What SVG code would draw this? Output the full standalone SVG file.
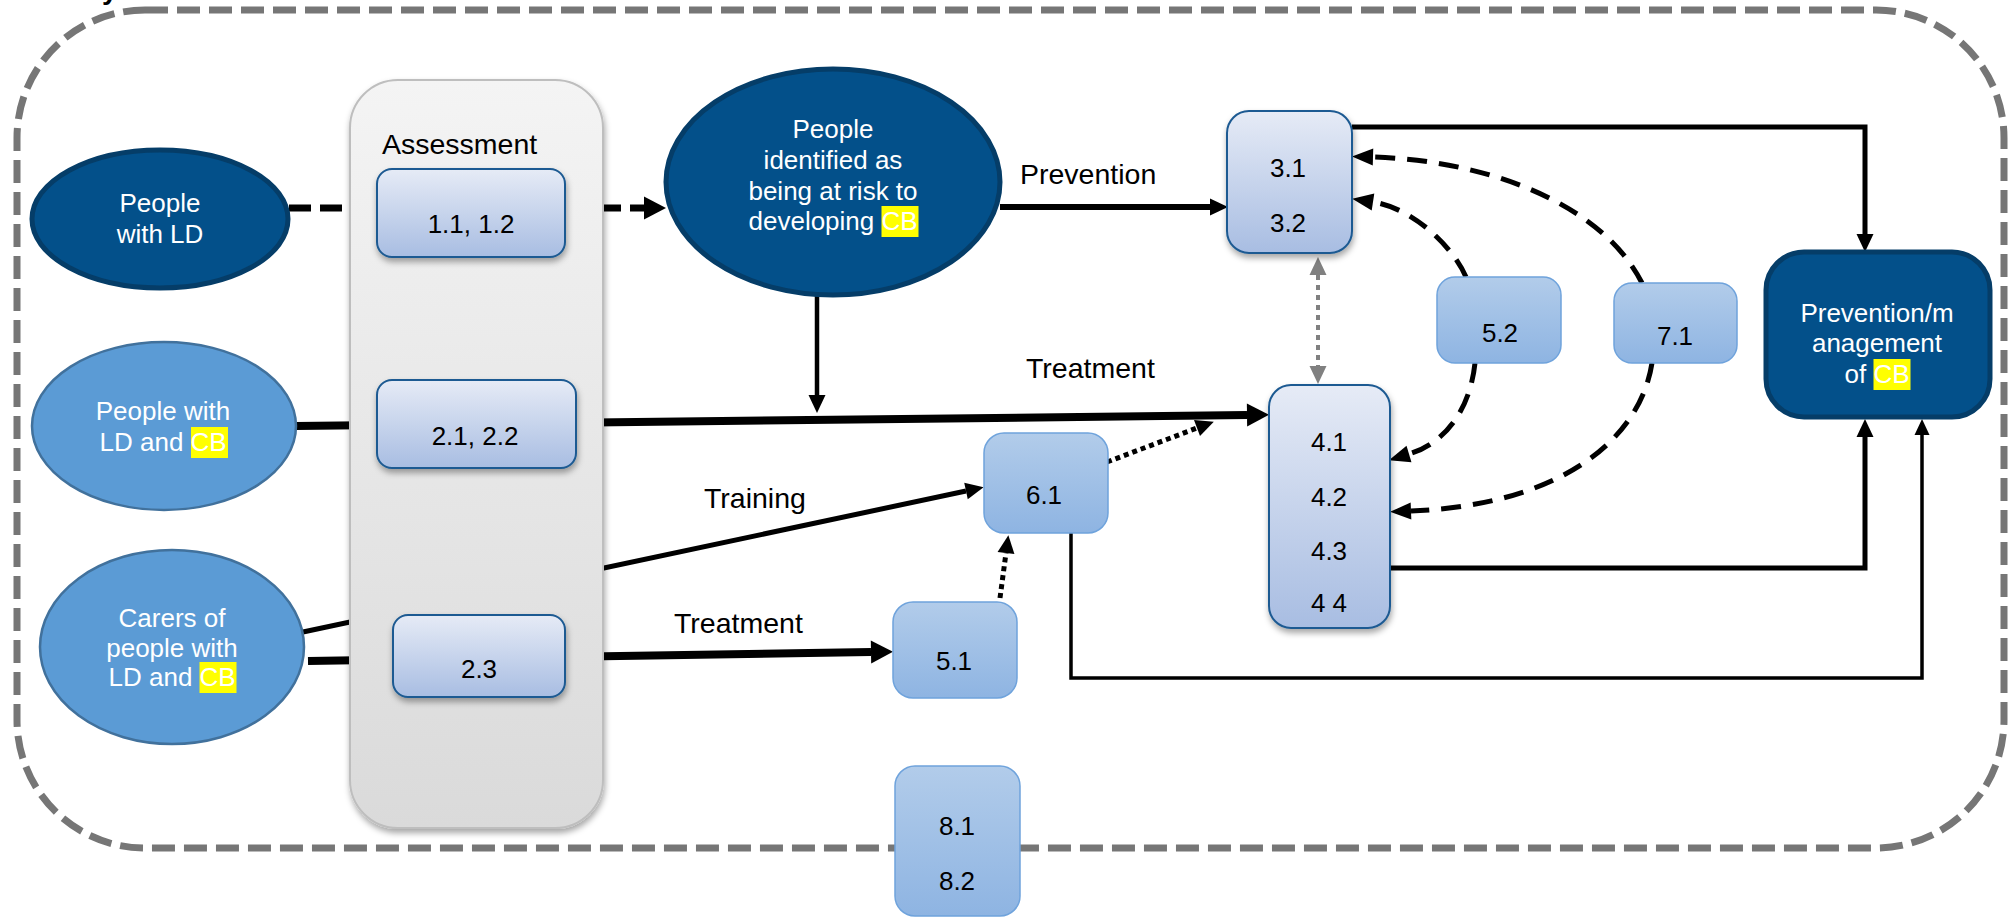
<svg xmlns="http://www.w3.org/2000/svg" width="2015" height="918" viewBox="0 0 2015 918">
<defs>
<style>
.t{font-family:"Liberation Sans",Arial,sans-serif;}
.w{fill:#ffffff;font-size:26px;}
.k{fill:#000000;font-size:26px;}
.lbl{fill:#000000;font-size:28.5px;}
.dk{fill:#03508A;stroke:#053D68;stroke-width:5;}
.lt{fill:#5B9BD5;stroke:#41719C;stroke-width:2.5;}
.bx{fill:url(#gBox);stroke:#1D5A92;stroke-width:2;filter:url(#sh);}
.lb{fill:url(#gLight);stroke:#6FA3DC;stroke-width:1.5;}
.hl{fill:#FFFF00;}
.ln{fill:none;stroke:#000;}
</style>
<linearGradient id="gBox" x1="0" y1="0" x2="0" y2="1"><stop offset="0" stop-color="#E6EBF6"/><stop offset="1" stop-color="#A8BDE2"/></linearGradient>
<linearGradient id="gLight" x1="0" y1="0" x2="0" y2="1"><stop offset="0" stop-color="#B2CCEA"/><stop offset="1" stop-color="#8EB4E2"/></linearGradient>
<linearGradient id="gPanel" x1="0" y1="0" x2="0" y2="1"><stop offset="0" stop-color="#F4F4F4"/><stop offset="1" stop-color="#DADADA"/></linearGradient>
<filter id="sh" x="-20%" y="-20%" width="140%" height="140%"><feDropShadow dx="1" dy="4" stdDeviation="3" flood-color="#000" flood-opacity="0.35"/></filter>
<marker id="aBig" markerUnits="userSpaceOnUse" markerWidth="30" markerHeight="30" orient="auto" overflow="visible"><path d="M0,-11.5 L22,0 L0,11.5 z" fill="#000"/></marker>
<marker id="aMed" markerUnits="userSpaceOnUse" markerWidth="30" markerHeight="30" orient="auto" overflow="visible"><path d="M0,-8.5 L18,0 L0,8.5 z" fill="#000"/></marker>
<marker id="aDash" markerUnits="userSpaceOnUse" markerWidth="30" markerHeight="30" orient="auto" overflow="visible"><path d="M0,-8.5 L21,0 L0,8.5 z" fill="#000"/></marker>
<marker id="aSm" markerUnits="userSpaceOnUse" markerWidth="30" markerHeight="30" orient="auto" overflow="visible"><path d="M0,-7.5 L16,0 L0,7.5 z" fill="#000"/></marker>
<marker id="aGray" markerUnits="userSpaceOnUse" markerWidth="30" markerHeight="30" orient="auto" overflow="visible"><path d="M0,-8.5 L18,0 L0,8.5 z" fill="#808080"/></marker>
<marker id="aGrayS" markerUnits="userSpaceOnUse" markerWidth="30" markerHeight="30" orient="auto-start-reverse" overflow="visible"><path d="M0,-8.5 L18,0 L0,8.5 z" fill="#808080"/></marker>
</defs>
<rect width="2015" height="918" fill="#ffffff"/>
<text class="t" x="102" y="-1" font-size="28" font-weight="bold" fill="#000">y</text>
<g id="boundary">
<rect x="17" y="10" width="1987" height="838" rx="128" ry="128" fill="none" stroke="#767676" stroke-width="7" stroke-dasharray="23 9"/>
</g>
<g id="connectors">
<path class="ln" d="M289,208 L644,208" stroke-width="7" stroke-dasharray="22 9" marker-end="url(#aBig)"/>
<path class="ln" d="M1000,207 L1210,207" stroke-width="6" marker-end="url(#aMed)"/>
<path class="ln" d="M817,295 L817,395" stroke-width="4.5" marker-end="url(#aMed)"/>
<path class="ln" d="M296,426 L1247,415" stroke-width="8" marker-end="url(#aBig)"/>
<path class="ln" d="M303,632 L966,491" stroke-width="5" marker-end="url(#aMed)"/>
<path class="ln" d="M308,661 L871,652" stroke-width="8" marker-end="url(#aBig)"/>
<path class="ln" d="M1000,598 L1006,553" stroke-width="5" stroke-dasharray="5 4" marker-end="url(#aMed)"/>
<path class="ln" d="M1107,462 L1197,428" stroke-width="5" stroke-dasharray="5 4" marker-end="url(#aMed)"/>
<path d="M1318,275 L1318,366" fill="none" stroke="#808080" stroke-width="4" stroke-dasharray="5 5" marker-start="url(#aGrayS)" marker-end="url(#aGray)"/>
<path class="ln" d="M1352,127 H1865 V234" stroke-width="5" marker-end="url(#aMed)"/>
<path class="ln" d="M1390,568 H1865 V437" stroke-width="5" marker-end="url(#aMed)"/>
<path class="ln" d="M1071,533 V678 H1922 V435" stroke-width="3.5" marker-end="url(#aSm)"/>
<path class="ln" d="M1466,277 C1452,245 1412,208 1373,202" stroke-width="5" stroke-dasharray="20 12" marker-end="url(#aDash)"/>
<path class="ln" d="M1642,283 C1600,200 1480,160 1373,157" stroke-width="5" stroke-dasharray="20 12" marker-end="url(#aDash)"/>
<path class="ln" d="M1475,363 C1470,410 1445,443 1409,454" stroke-width="5" stroke-dasharray="20 12" marker-end="url(#aDash)"/>
<path class="ln" d="M1652,363 C1640,440 1560,505 1411,511" stroke-width="5" stroke-dasharray="20 12" marker-end="url(#aDash)"/>
</g>
<g id="labels" class="t">
<text class="lbl" x="1020" y="184">Prevention</text>
<text class="lbl" x="1026" y="378">Treatment</text>
<text class="lbl" x="704" y="508">Training</text>
<text class="lbl" x="674" y="633">Treatment</text>
</g>
<g id="assessment">
<rect x="350" y="80" width="253" height="748" rx="48" ry="48" fill="url(#gPanel)" stroke="#BEBEBE" stroke-width="2" filter="url(#sh)"/>
<text class="t lbl" x="382" y="154">Assessment</text>
</g>
<g id="n-ld">
<ellipse class="dk" cx="160" cy="219" rx="128" ry="69"/>
<text class="t w" x="160" y="212" text-anchor="middle">People</text>
<text class="t w" x="160" y="243" text-anchor="middle">with LD</text>
</g>
<g id="n-ldcb">
<ellipse class="lt" cx="164" cy="426" rx="132" ry="84"/>
<text class="t w" x="163" y="420" text-anchor="middle">People with</text>
<rect class="hl" x="191" y="427" width="37" height="31"/>
<text class="t w" x="99.5" y="451">LD and CB</text>
</g>
<g id="n-carers">
<ellipse class="lt" cx="172" cy="647" rx="132" ry="97"/>
<text class="t w" x="172" y="627" text-anchor="middle">Carers of</text>
<text class="t w" x="172" y="657" text-anchor="middle">people with</text>
<rect class="hl" x="199.5" y="662" width="37" height="31"/>
<text class="t w" x="108.5" y="686">LD and CB</text>
</g>
<g id="n-risk">
<ellipse class="dk" cx="833" cy="182" rx="167" ry="113"/>
<text class="t w" x="833" y="138" text-anchor="middle">People</text>
<text class="t w" x="833" y="169" text-anchor="middle">identified as</text>
<text class="t w" x="833" y="200" text-anchor="middle">being at risk to</text>
<rect class="hl" x="881.5" y="206" width="37" height="31"/>
<text class="t w" x="748.5" y="230">developing CB</text>
</g>
<g id="n-pm">
<rect class="dk" x="1766" y="252" width="224" height="165" rx="38" ry="38" stroke-width="6"/>
<text class="t w" x="1877" y="322" text-anchor="middle">Prevention/m</text>
<text class="t w" x="1877" y="352" text-anchor="middle">anagement</text>
<rect class="hl" x="1873.5" y="359" width="37" height="31"/>
<text class="t w" x="1844.5" y="383">of CB</text>
</g>
<g id="n-11">
<rect class="bx" x="377" y="169" width="188" height="88" rx="15" ry="15"/>
<text class="t k" x="471" y="233" text-anchor="middle">1.1, 1.2</text>
</g>
<g id="n-21">
<rect class="bx" x="377" y="380" width="199" height="88" rx="15" ry="15"/>
<text class="t k" x="475" y="445" text-anchor="middle">2.1, 2.2</text>
</g>
<g id="n-23">
<rect class="bx" x="393" y="615" width="172" height="82" rx="15" ry="15"/>
<text class="t k" x="479" y="678" text-anchor="middle">2.3</text>
</g>
<g id="n-3">
<rect class="bx" x="1227" y="111" width="125" height="142" rx="22" ry="22"/>
<text class="t k" x="1288" y="177" text-anchor="middle">3.1</text>
<text class="t k" x="1288" y="232" text-anchor="middle">3.2</text>
</g>
<g id="n-4">
<rect class="bx" x="1269" y="385" width="121" height="243" rx="22" ry="22"/>
<text class="t k" x="1329" y="451" text-anchor="middle">4.1</text>
<text class="t k" x="1329" y="506" text-anchor="middle">4.2</text>
<text class="t k" x="1329" y="560" text-anchor="middle">4.3</text>
<text class="t k" x="1329" y="612" text-anchor="middle">4 4</text>
</g>
<g id="n-52">
<rect class="lb" x="1437" y="277" width="124" height="86" rx="18" ry="18"/>
<text class="t k" x="1500" y="342" text-anchor="middle">5.2</text>
</g>
<g id="n-71">
<rect class="lb" x="1614" y="283" width="123" height="80" rx="18" ry="18"/>
<text class="t k" x="1675" y="345" text-anchor="middle">7.1</text>
</g>
<g id="n-61">
<rect class="lb" x="984" y="433" width="124" height="100" rx="20" ry="20"/>
<text class="t k" x="1044" y="504" text-anchor="middle">6.1</text>
</g>
<g id="n-51">
<rect class="lb" x="893" y="602" width="124" height="96" rx="20" ry="20"/>
<text class="t k" x="954" y="670" text-anchor="middle">5.1</text>
</g>
<g id="n-8">
<rect class="lb" x="895" y="766" width="125" height="150" rx="20" ry="20"/>
<text class="t k" x="957" y="835" text-anchor="middle">8.1</text>
<text class="t k" x="957" y="890" text-anchor="middle">8.2</text>
</g>
</svg>
